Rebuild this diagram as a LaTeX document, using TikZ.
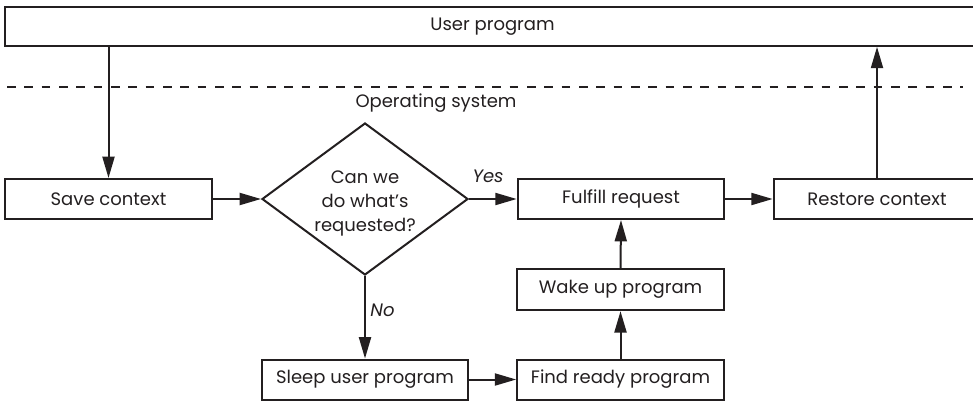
\documentclass[tikz,border=0pt]{standalone}
\usepackage{fontspec}
\setmainfont{Poppins}
\usepackage{tikz}
\usetikzlibrary{arrows.meta, shapes.geometric, calc}
\definecolor{osink}{RGB}{35,31,32}

\begin{document}
\begin{tikzpicture}[x=0.75pt, y=-0.75pt,
  every node/.style={text=osink, font=\fontsize{13.5}{18}\selectfont},
  box/.style={draw=osink, line width=1.5pt, minimum width=155pt, minimum height=30pt, inner sep=0pt},
  decide/.style={draw=osink, line width=1.5pt, diamond, minimum width=154.5pt, minimum height=114pt, inner sep=0pt},
  arr/.style={draw=osink, line width=1.5pt, -{Triangle[length=16pt, width=9pt]}},
  lbl/.style={font=\fontsize{13.5}{18}\selectfont\itshape}]
% frame
\clip (0,0) rectangle (973,400);
\fill[white] (0,0) rectangle (973,400);

% user program + boundary
\node[box, minimum width=731pt, minimum height=29pt] (user) at (492.5,26.5) {User program};
\draw[osink, line width=1.5pt, dash pattern=on 6.5pt off 6.5pt] (7,87) -- (963,87);
\node (os) at (436,103) {Operating system};

% main row
\node[box] (save) at (108.5,199) {Save context};
\node[decide] (dec) at (365,199)
  {\makebox[0pt]{\smash{\raisebox{-6.2pt}{\begin{tabular}{@{}c@{}}Can we\\do what’s\\requested?\end{tabular}}}}};
\node[box] (ful) at (621,199) {Fulfill request};
\node[box] (res) at (877,199) {Restore context};

% lower path
\node[box, minimum height=31pt] (wake) at (620.5,289.5) {Wake up program};
\node[box] (sleep) at (365,379.5) {Sleep user program};
\node[box] (find) at (620.5,379.5) {Find ready program};

% connectors
\draw[arr] (save.north |- user.south) -- (save.north);
\draw[arr] (save.east) -- (dec.west);
\draw[arr] (dec.east) -- node[lbl, above, pos=0.4, yshift=8pt] {Yes} (ful.west);
\draw[arr] (ful.east) -- (res.west);
\draw[arr] (res.north) -- (res.north |- user.south);
\draw[arr] (dec.south) -- node[lbl, right, pos=0.42] {No} (sleep.north);
\draw[arr] (sleep.east) -- (find.west);
\draw[arr] (find.north) -- (wake.south);
\draw[arr] (wake.north) -- (ful.south);
\end{tikzpicture}
\end{document}
